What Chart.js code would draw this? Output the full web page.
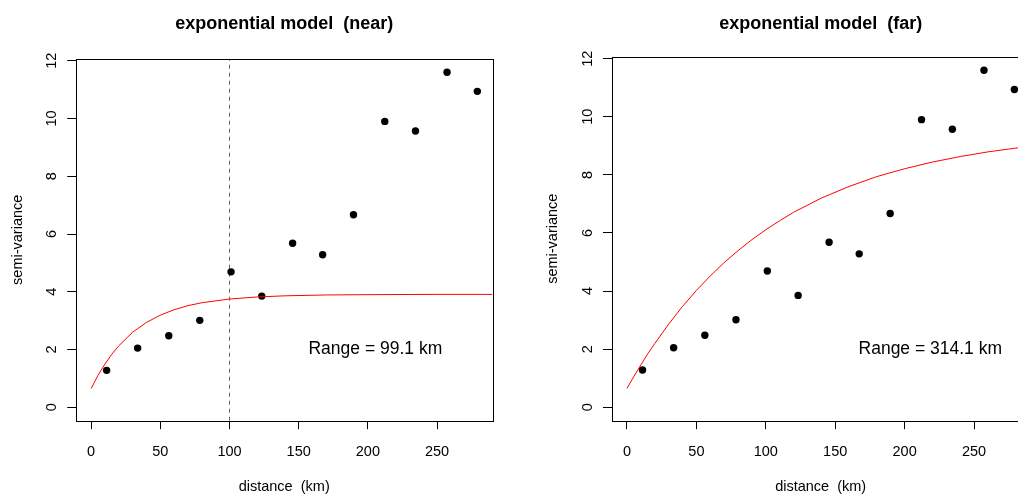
<!DOCTYPE html>
<html><head><meta charset="utf-8">
<script src="https://cdn.jsdelivr.net/npm/chart.js@4.4.0/dist/chart.umd.min.js"></script>
<style>
html,body{margin:0;padding:0;background:#fff;overflow:hidden;width:1018px;height:496px;position:relative;}
#c1{position:absolute;left:0;top:0;}
#c2{position:absolute;left:510px;top:0;}
</style></head><body>
<canvas id="c1" width="510" height="496"></canvas>
<canvas id="c2" width="545" height="496"></canvas>
<script>
// ---- data ----
const distances    = [11.2, 33.6, 56.1, 78.5, 101.1, 123.3, 145.6, 167.3, 189.6, 212.2, 234.4, 257.2, 279.1];
const semivariance = [1.28, 2.05, 2.48, 3.01, 4.69, 3.85, 5.68, 5.28, 6.67, 9.90, 9.57, 11.60, 10.94];

const nearModelX = [0, 5, 10, 15, 20, 30, 40, 50, 60, 70, 80, 100, 120, 140, 170, 200, 250, 290];
const nearModelY = [0.65, 1.11, 1.50, 1.84, 2.13, 2.60, 2.94, 3.19, 3.38, 3.52, 3.62, 3.75, 3.82, 3.86, 3.89, 3.90, 3.91, 3.91];

const farModelX = [0, 5, 10, 15, 20, 30, 40, 50, 60, 70, 80, 90, 100, 110, 120, 140, 160, 180, 200, 220, 240, 260, 280, 290];
const farModelY = [0.65, 1.06, 1.46, 1.84, 2.19, 2.86, 3.47, 4.02, 4.52, 4.98, 5.39, 5.77, 6.11, 6.42, 6.71, 7.20, 7.60, 7.94, 8.21, 8.44, 8.63, 8.79, 8.92, 8.97];

const nearRangeLineX = [100, 100];
const xTickValues = [0, 50, 100, 150, 200, 250];
const yTickValues = [0, 2, 4, 6, 8, 10, 12];
const panelTitles = ['exponential model  (near)', 'exponential model  (far)'];
const rangeLabels = ['Range = 99.1 km', 'Range = 314.1 km'];
const xAxisTitle = 'distance  (km)';
const yAxisTitle = 'semi-variance';

// axis limits (R style: data range + 4%)
const X_MIN = -11.16, X_MAX = 290.2;
const Y_MIN = -0.464, Y_MAX = 12.064;

const FONT = '"Liberation Sans", Arial, Helvetica, sans-serif';

const pts = (xs, ys) => xs.map((x, i) => ({x: x, y: ys[i]}));

const rPlugin = {
  id: 'rbox',
  afterDraw(chart, args, o) {
    const {ctx, chartArea: a, scales: {x, y}} = chart;
    ctx.save();
    ctx.strokeStyle = '#000';
    ctx.lineWidth = 1;
    ctx.strokeRect(Math.round(a.left) + 0.5, Math.round(a.top) + 0.5,
                   Math.round(a.right - a.left), Math.round(a.bottom - a.top));
    ctx.font = '17.5px ' + FONT;
    ctx.fillStyle = '#000';
    ctx.textAlign = 'center';
    ctx.textBaseline = 'middle';
    ctx.fillText(o.label, x.getPixelForValue(o.lx), y.getPixelForValue(o.ly));
    ctx.restore();
  }
};

function makeChart(id, cfg) {
  const datasets = [
    {
      data: pts(cfg.modelX, cfg.modelY),
      showLine: true, borderColor: '#ff0000', borderWidth: 1,
      pointRadius: 0, tension: 0, fill: false
    },
    {
      data: pts(distances, semivariance),
      showLine: false, pointRadius: 3.7, pointBackgroundColor: '#000',
      pointBorderWidth: 0, pointBorderColor: '#000'
    }
  ];
  if (cfg.rangeLine) {
    datasets.push({
      data: [{x: nearRangeLineX[0], y: Y_MIN}, {x: nearRangeLineX[1], y: Y_MAX}],
      showLine: true, borderColor: '#666', borderWidth: 1, borderDash: [4, 4],
      pointRadius: 0, fill: false
    });
  }
  return new Chart(document.getElementById(id), {
    type: 'scatter',
    data: {datasets: datasets},
    plugins: [rPlugin],
    options: {
      responsive: false,
      animation: false,
      devicePixelRatio: 1,
      layout: {padding: {left: 0, top: 0, right: cfg.padRight, bottom: 0}},
      plugins: {
        legend: {display: false},
        tooltip: {enabled: false},
        title: {
          display: true, text: cfg.title, fullSize: false, color: '#000',
          font: {family: FONT, size: 18, weight: 'bold'},
          padding: {top: 13.5, bottom: cfg.titleBottom}
        },
        rbox: {label: cfg.rangeLabel, lx: cfg.labelX, ly: 2}
      },
      scales: {
        x: {
          type: 'linear', position: 'bottom', min: X_MIN, max: X_MAX,
          afterBuildTicks: s => { s.ticks = xTickValues.map(v => ({value: v})); },
          afterFit: s => { s.height = 75.3; },
          grid: {display: true, drawOnChartArea: false, drawTicks: true, tickLength: 8.5, tickColor: '#000', tickWidth: 1},
          border: {display: false},
          ticks: {autoSkip: false, maxRotation: 0, minRotation: 0, padding: 13.8, color: '#000',
                  font: {family: FONT, size: 14.5}},
          title: {display: true, text: xAxisTitle, color: '#000', font: {family: FONT, size: 14.5},
                  padding: {top: 0, bottom: 0}}
        },
        y: {
          type: 'linear', position: 'left', min: Y_MIN, max: Y_MAX,
          afterBuildTicks: s => { s.ticks = yTickValues.map(v => ({value: v})); },
          afterFit: s => { s.width = cfg.yWidth; },
          grid: {display: true, drawOnChartArea: false, drawTicks: true, tickLength: 8.5, tickColor: '#000', tickWidth: 1},
          border: {display: false},
          ticks: {autoSkip: false, minRotation: 90, maxRotation: 90, crossAlign: 'center', padding: 6.8,
                  color: '#000', font: {family: FONT, size: 14.5}},
          title: {display: true, text: yAxisTitle, color: '#000', font: {family: FONT, size: 14.5},
                  padding: {top: cfg.yTitlePad, bottom: 0}}
        }
      }
    }
  });
}

makeChart('c1', {
  modelX: nearModelX, modelY: nearModelY, rangeLine: true,
  title: panelTitles[0], rangeLabel: rangeLabels[0], labelX: 205.4,
  padRight: 17.3, yWidth: 75.7, yTitlePad: 9.6, titleBottom: 23.8
});
makeChart('c2', {
  modelX: farModelX, modelY: farModelY, rangeLine: false,
  title: panelTitles[1], rangeLabel: rangeLabels[1], labelX: 218.5,
  padRight: 25.2, yWidth: 101.5, yTitlePad: 34.6, titleBottom: 21.7
});
</script>
</body></html>
